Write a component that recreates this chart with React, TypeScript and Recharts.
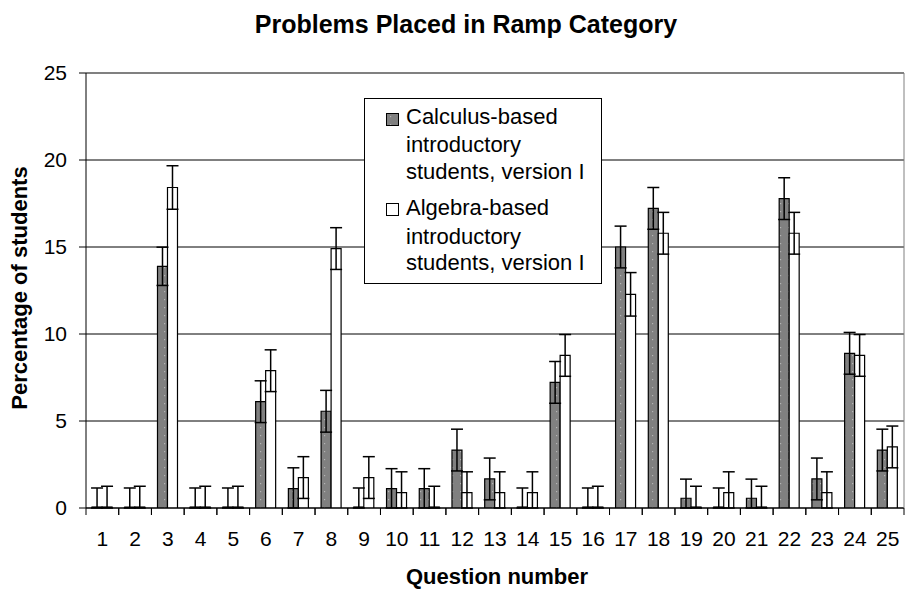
import React from 'react';
import { BarChart, Bar, XAxis, YAxis, CartesianGrid, ErrorBar, ReferenceLine } from 'recharts';

const questions = ['1', '2', '3', '4', '5', '6', '7', '8', '9', '10', '11', '12', '13', '14', '15', '16', '17', '18', '19', '20', '21', '22', '23', '24', '25'];
const calculusValues = [0, 0, 13.89, 0, 0, 6.11, 1.11, 5.56, 0, 1.11, 1.11, 3.33, 1.67, 0, 7.22, 0, 15.0, 17.22, 0.56, 0, 0.56, 17.78, 1.67, 8.89, 3.33];
const algebraValues = [0, 0, 18.42, 0, 0, 7.89, 1.75, 14.91, 1.75, 0.88, 0, 0.88, 0.88, 0.88, 8.77, 0, 12.28, 15.79, 0, 0.88, 0, 15.79, 0.88, 8.77, 3.51];
const calculusErrors = [1.15, 1.15, 1.1, 1.15, 1.15, 1.2, 1.2, 1.2, 1.15, 1.15, 1.15, 1.2, 1.2, 1.15, 1.2, 1.15, 1.2, 1.2, 1.1, 1.15, 1.1, 1.2, 1.2, 1.2, 1.2];
const algebraErrors = [1.25, 1.25, 1.25, 1.25, 1.25, 1.2, 1.2, 1.2, 1.2, 1.2, 1.25, 1.2, 1.2, 1.2, 1.2, 1.25, 1.25, 1.2, 1.25, 1.2, 1.25, 1.2, 1.2, 1.2, 1.2];
const yTicks = [0, 5, 10, 15, 20, 25];

const calcLegend = ['Calculus-based', 'introductory', 'students, version I'];
const algLegend = ['Algebra-based', 'introductory', 'students, version I'];

const FONT = '"Liberation Sans", Arial, Helvetica, sans-serif';

const data = questions.map((q, i) => ({
  q,
  calc: calculusValues[i],
  alg: algebraValues[i],
  calcErr: [Math.min(calculusValues[i], calculusErrors[i]), calculusErrors[i]],
  algErr: [Math.min(algebraValues[i], algebraErrors[i]), algebraErrors[i]],
}));

const XTick = (props: any) => {
  const { x, y, payload } = props;
  const half = payload && typeof payload.offset === 'number' && payload.offset > 0 ? payload.offset : 16.36;
  return (
    <g>
      <line x1={x - half} y1={y} x2={x - half} y2={y + 7} stroke="#000" strokeWidth={1} />
      <line x1={x + half} y1={y} x2={x + half} y2={y + 7} stroke="#000" strokeWidth={1} />
      <text x={x} y={y + 38} textAnchor="middle" fontSize={21} fontFamily={FONT} fill="#000">
        {payload.value}
      </text>
    </g>
  );
};

const lineStyle = (top: number): React.CSSProperties => ({
  position: 'absolute',
  left: 41,
  top,
  fontSize: 22,
  lineHeight: '22px',
  whiteSpace: 'nowrap',
  color: '#000',
});

export default function App() {
  return (
    <div style={{ position: 'absolute', left: 0, top: 0, width: 905, height: 590, background: '#fff', fontFamily: FONT }}>
      <svg width="0" height="0" style={{ position: 'absolute' }}>
        <defs>
          <pattern id="calcDots" width="8" height="8" patternUnits="userSpaceOnUse">
            <rect width="8" height="8" fill="#808080" />
            <rect x="4" y="3" width="1.2" height="1.2" fill="#b4b4b4" />
          </pattern>
        </defs>
      </svg>
      <BarChart
        width={905}
        height={590}
        data={data}
        margin={{ top: 73, right: 0, bottom: 0, left: 0 }}
        barCategoryGap="18.5%"
        barGap={0}
      >
        <CartesianGrid vertical={false} stroke="#000" strokeWidth={1} />
        <XAxis
          dataKey="q"
          interval={0}
          height={82}
          tickSize={0}
          tickMargin={0}
          tickLine={false}
          axisLine={{ stroke: '#000', strokeWidth: 1 }}
          tick={<XTick />}
        />
        <YAxis
          domain={[0, 25]}
          ticks={yTicks}
          width={86}
          tickSize={7}
          tickMargin={12}
          axisLine={{ stroke: '#000', strokeWidth: 1 }}
          tickLine={{ stroke: '#000', strokeWidth: 1 }}
          tick={{ fontSize: 21, fill: '#000', fontFamily: FONT }}
          allowDataOverflow
        />
        <YAxis
          yAxisId="r"
          orientation="right"
          width={1}
          domain={[0, 25]}
          ticks={yTicks}
          tick={false}
          tickLine={false}
          axisLine={{ stroke: '#808080', strokeWidth: 1 }}
        />
        <ReferenceLine y={25} stroke="#808080" strokeWidth={2} />
        <Bar dataKey="calc" minPointSize={1} fill="url(#calcDots) #808080" stroke="#000" strokeWidth={1.2} isAnimationActive={false}>
          <ErrorBar dataKey="calcErr" width={6} stroke="#000" strokeWidth={1.5} direction="y" />
        </Bar>
        <Bar dataKey="alg" minPointSize={1} fill="#ffffff" stroke="#000" strokeWidth={1.2} isAnimationActive={false}>
          <ErrorBar dataKey="algErr" width={6} stroke="#000" strokeWidth={1.5} direction="y" />
        </Bar>
      </BarChart>

      <div
        style={{
          position: 'absolute',
          left: 216,
          width: 500,
          top: 12,
          textAlign: 'center',
          fontSize: 25,
          lineHeight: '25px',
          fontWeight: 'bold',
          color: '#000',
        }}
      >
        Problems Placed in Ramp Category
      </div>
      <div
        style={{
          position: 'absolute',
          left: 347,
          width: 300,
          top: 566,
          textAlign: 'center',
          fontSize: 22,
          lineHeight: '22px',
          fontWeight: 'bold',
          color: '#000',
        }}
      >
        Question number
      </div>
      <div
        style={{
          position: 'absolute',
          left: -130,
          width: 300,
          top: 277,
          textAlign: 'center',
          fontSize: 22,
          lineHeight: '22px',
          fontWeight: 'bold',
          color: '#000',
          transform: 'rotate(-90deg)',
          transformOrigin: '50% 50%',
        }}
      >
        Percentage of students
      </div>

      <div
        style={{
          position: 'absolute',
          left: 364,
          top: 98,
          width: 238,
          height: 186,
          boxSizing: 'border-box',
          border: '1px solid #000',
          background: '#fff',
        }}
      >
        <svg width="13" height="13" style={{ position: 'absolute', left: 21, top: 14 }}>
          <rect x="0.5" y="0.5" width="12" height="12" fill="url(#calcDots) #808080" stroke="#000" strokeWidth={1} />
        </svg>
        {calcLegend.map((t, i) => (
          <div key={'c' + i} style={lineStyle([7, 35, 62][i])}>{t}</div>
        ))}
        <svg width="13" height="13" style={{ position: 'absolute', left: 21, top: 104 }}>
          <rect x="0.5" y="0.5" width="12" height="12" fill="#fff" stroke="#000" strokeWidth={1} />
        </svg>
        {algLegend.map((t, i) => (
          <div key={'a' + i} style={lineStyle([98, 127, 153][i])}>{t}</div>
        ))}
      </div>
    </div>
  );
}
